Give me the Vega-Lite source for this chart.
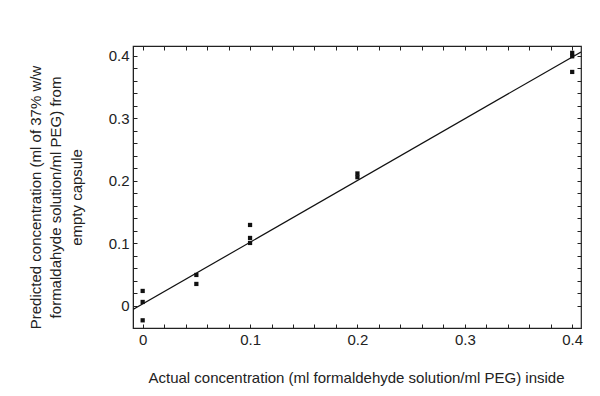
{
  "$schema": "https://vega.github.io/schema/vega-lite/v6.json",
  "autosize": "none",
  "width": 448,
  "height": 282,
  "padding": {"left": 133, "top": 46, "right": 19, "bottom": 68},
  "background": "white",
  "config": {
    "font": "Liberation Sans",
    "view": {"stroke": "#222", "strokeWidth": 1.2},
    "axis": {"grid": false, "labelFont": "Liberation Sans", "titleFont": "Liberation Sans", "labelColor": "#222", "titleColor": "#222", "domainColor": "#222", "tickColor": "#222", "titleFontWeight": "normal"}
  },
  "datasets": {
    "pts": [
      {"actual": 0, "predicted": 0.024},
      {"actual": 0, "predicted": 0.0064},
      {"actual": 0, "predicted": -0.023},
      {"actual": 0.05, "predicted": 0.0496},
      {"actual": 0.05, "predicted": 0.0352},
      {"actual": 0.1, "predicted": 0.1296},
      {"actual": 0.1, "predicted": 0.1088},
      {"actual": 0.1, "predicted": 0.1008},
      {"actual": 0.2, "predicted": 0.212},
      {"actual": 0.2, "predicted": 0.206},
      {"actual": 0.4, "predicted": 0.405},
      {"actual": 0.4, "predicted": 0.3995},
      {"actual": 0.4, "predicted": 0.3745}
    ],
    "fit": [
      {"actual": -0.009, "predicted": -0.0058},
      {"actual": 0.4082, "predicted": 0.4065}
    ]
  },
  "layer": [
    {
      "data": {"name": "pts"},
      "mark": {"type": "point", "shape": "square", "filled": true, "size": 18, "color": "#111", "opacity": 1},
      "encoding": {
        "x": {
          "field": "actual", "type": "quantitative",
          "scale": {"domain": [-0.009, 0.4082], "nice": false, "zero": false},
          "axis": {
            "orient": "bottom",
            "title": "Actual concentration (ml formaldehyde solution/ml PEG) inside",
            "titleFontSize": 15, "titleX": 223, "titleY": 54, "titleBaseline": "alphabetic", "titleAlign": "center",
            "values": [0, 0.02, 0.04, 0.06, 0.08, 0.1, 0.12, 0.14, 0.16, 0.18, 0.2, 0.22, 0.24, 0.26, 0.28, 0.3, 0.32, 0.34, 0.36, 0.38, 0.4],
            "labelExpr": "abs(datum.value*10 - round(datum.value*10)) < 0.001 ? (datum.value == 0 ? '0' : format(datum.value, '.1f')) : ''",
            "labelFontSize": 15, "tickSize": -4, "labelPadding": 8, "labelFlush": false, "labelOverlap": false, "domain": true
          }
        },
        "y": {
          "field": "predicted", "type": "quantitative",
          "scale": {"domain": [-0.0353, 0.416], "nice": false, "zero": false},
          "axis": {
            "orient": "left",
            "title": ["Predicted concentration (ml of 37% w/w", "formaldahyde solution/ml PEG) from", "empty capsule"],
            "titleFontSize": 15, "titleX": -93, "titleY": 151, "titleBaseline": "alphabetic", "titleAlign": "center", "titleAngle": -90, "titleLineHeight": 20.5,
            "values": [0, 0.02, 0.04, 0.06, 0.08, 0.1, 0.12, 0.14, 0.16, 0.18, 0.2, 0.22, 0.24, 0.26, 0.28, 0.3, 0.32, 0.34, 0.36, 0.38, 0.4],
            "labelExpr": "abs(datum.value*10 - round(datum.value*10)) < 0.001 ? (datum.value == 0 ? '0' : format(datum.value, '.1f')) : ''",
            "labelFontSize": 15, "tickSize": -4, "labelPadding": 8, "labelFlush": false, "labelOverlap": false, "domain": true
          }
        }
      }
    },
    {
      "data": {"name": "fit"},
      "mark": {"type": "line", "color": "#111", "strokeWidth": 1.2, "clip": true},
      "encoding": {
        "x": {
          "field": "actual", "type": "quantitative",
          "axis": {
            "orient": "top", "title": null, "labels": false, "domain": false, "tickSize": -4,
            "values": [0, 0.02, 0.04, 0.06, 0.08, 0.1, 0.12, 0.14, 0.16, 0.18, 0.2, 0.22, 0.24, 0.26, 0.28, 0.3, 0.32, 0.34, 0.36, 0.38, 0.4]
          }
        },
        "y": {
          "field": "predicted", "type": "quantitative",
          "axis": {
            "orient": "right", "title": null, "labels": false, "domain": false, "tickSize": -4,
            "values": [0, 0.02, 0.04, 0.06, 0.08, 0.1, 0.12, 0.14, 0.16, 0.18, 0.2, 0.22, 0.24, 0.26, 0.28, 0.3, 0.32, 0.34, 0.36, 0.38, 0.4]
          }
        }
      }
    }
  ]
}
